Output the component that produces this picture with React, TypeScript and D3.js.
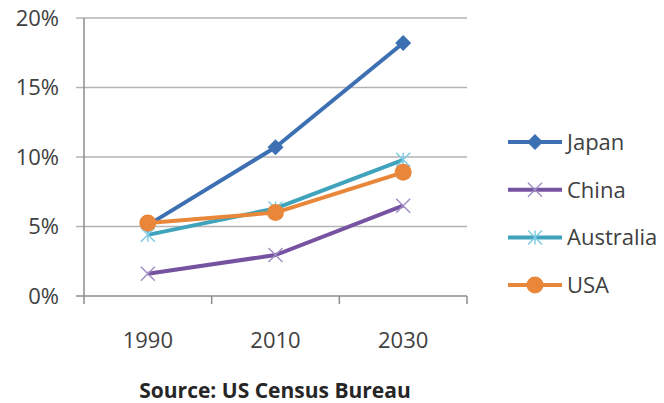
import React from "react";
import * as d3 from "d3";

const W = 664;
const H = 403;

const years = ["1990", "2010", "2030"];
const yTicks = [0, 0.05, 0.1, 0.15, 0.2];

const japan = [0.051, 0.107, 0.182];
const china = [0.016, 0.0295, 0.065];
const australia = [0.044, 0.063, 0.098];
const usa = [0.0525, 0.06, 0.089];

interface Series {
  name: string;
  values: number[];
  color: string;
  markColor: string;
  marker: "diamond" | "x" | "star" | "circle";
}

const series: Series[] = [
  { name: "Japan", values: japan, color: "#3D6FB3", markColor: "#3D6FB3", marker: "diamond" },
  { name: "China", values: china, color: "#7553A0", markColor: "#A08CC4", marker: "x" },
  { name: "Australia", values: australia, color: "#3FA3BC", markColor: "#7CCBE0", marker: "star" },
  { name: "USA", values: usa, color: "#E8863A", markColor: "#E8863A", marker: "circle" },
];

const FONT = "'Open Sans', sans-serif";
const TEXT = "#404040";

const Marker = ({ type, cx, cy, color }: { type: string; cx: number; cy: number; color: string }) => {
  if (type === "diamond") {
    const r = 8;
    return <path d={`M${cx},${cy - r}L${cx + r},${cy}L${cx},${cy + r}L${cx - r},${cy}Z`} fill={color} />;
  }
  if (type === "circle") {
    return <circle cx={cx} cy={cy} r={8.5} fill={color} />;
  }
  const r = 7;
  const xPath = `M${cx - r},${cy - r}L${cx + r},${cy + r}M${cx - r},${cy + r}L${cx + r},${cy - r}`;
  if (type === "x") {
    return <path d={xPath} stroke={color} strokeWidth={1.4} fill="none" />;
  }
  return <path d={`${xPath}M${cx},${cy - r}L${cx},${cy + r}`} stroke={color} strokeWidth={1.4} fill="none" />;
};

export default function App() {
  const x = d3.scaleBand().domain(years).range([84, 467]);
  const y = d3.scaleLinear().domain([0, 0.2]).range([296, 18]);
  const cx = (d: string) => (x(d) ?? 0) + x.bandwidth() / 2;
  const fmt = d3.format(".0%");

  const line = d3
    .line<number>()
    .x((_, i) => cx(years[i]))
    .y((d) => y(d));

  const legendX0 = 508;
  const legendX1 = 562;
  const legendY = (i: number) => 142 + i * 47.7;

  return (
    <svg width={W} height={H} style={{ position: "absolute", left: 0, top: 0 }} fontFamily={FONT}>
      <rect width={W} height={H} fill="#fff" />
      {/* gridlines + y ticks */}
      {yTicks.map((t) => (
        <g key={t}>
          <line x1={76} x2={467} y1={y(t)} y2={y(t)} stroke={t === 0 ? "#8c8c8c" : "#b3b3b3"} strokeWidth={1.5} />
          <text x={59} y={y(t)} dy="0.36em" textAnchor="end" fontSize={22} fill={TEXT}>
            {fmt(t)}
          </text>
        </g>
      ))}
      {/* y axis */}
      <line x1={84} x2={84} y1={y(0.2)} y2={y(0) + 8} stroke="#8c8c8c" strokeWidth={1.5} />
      {/* x ticks */}
      {years.map((yr) => (
        <g key={yr}>
          <line
            x1={(x(yr) ?? 0) + x.bandwidth()}
            x2={(x(yr) ?? 0) + x.bandwidth()}
            y1={y(0)}
            y2={y(0) + 8}
            stroke="#8c8c8c"
            strokeWidth={1.5}
          />
          <text x={cx(yr)} y={348} textAnchor="middle" fontSize={22} fill={TEXT}>
            {yr}
          </text>
        </g>
      ))}
      {/* lines */}
      {series.map((s) => (
        <path key={s.name} d={line(s.values) ?? ""} fill="none" stroke={s.color} strokeWidth={4} strokeLinejoin="round" />
      ))}
      {series.map((s) => (
        <g key={s.name + "-m"}>
          {s.values.map((v, i) => (
            <Marker key={i} type={s.marker} cx={cx(years[i])} cy={y(v)} color={s.markColor} />
          ))}
        </g>
      ))}
      {/* legend */}
      {series.map((s, i) => (
        <g key={s.name + "-l"}>
          <line x1={legendX0} x2={legendX1} y1={legendY(i)} y2={legendY(i)} stroke={s.color} strokeWidth={4} />
          <Marker type={s.marker} cx={(legendX0 + legendX1) / 2} cy={legendY(i)} color={s.markColor} />
          <text x={567} y={legendY(i)} dy="0.36em" fontSize={22} fill={TEXT}>
            {s.name}
          </text>
        </g>
      ))}
      <text x={275} y={398} textAnchor="middle" fontSize={21} fontWeight="bold" fill="#262626">
        Source: US Census Bureau
      </text>
    </svg>
  );
}
